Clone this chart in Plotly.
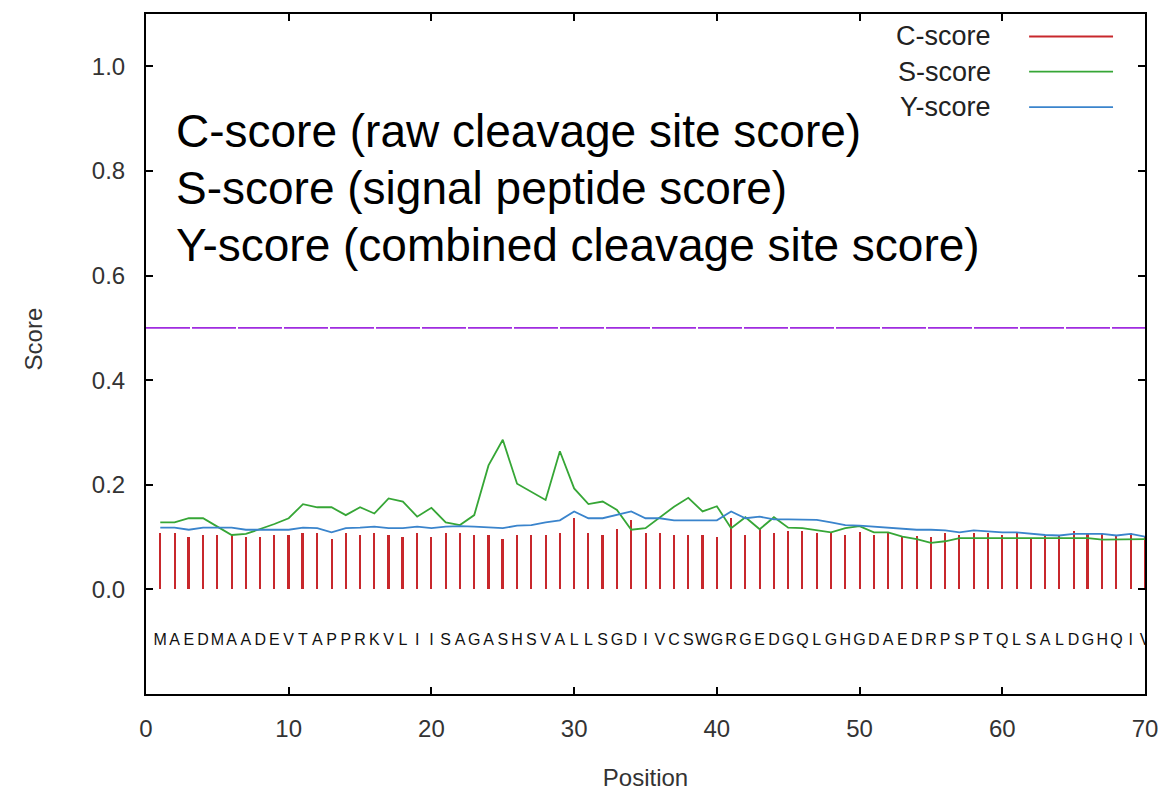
import plotly.graph_objects as go

# SignalP-style score plot: C/S/Y scores per residue position
positions = list(range(1, 71))
sequence = "MAEDMAADEVTAPPRKVLIISAGASHSVALLSGDIVCSWGRGEDGQLGHGDAEDRPSPTQLSALDGHQIV"

c_score = [0.108, 0.108, 0.101, 0.104, 0.104, 0.104, 0.101, 0.101, 0.104, 0.104,
           0.108, 0.108, 0.096, 0.108, 0.104, 0.108, 0.104, 0.101, 0.108, 0.101,
           0.108, 0.108, 0.104, 0.104, 0.096, 0.104, 0.104, 0.104, 0.108, 0.136,
           0.108, 0.104, 0.115, 0.133, 0.108, 0.108, 0.104, 0.104, 0.104, 0.101,
           0.136, 0.104, 0.117, 0.108, 0.111, 0.111, 0.108, 0.108, 0.104, 0.109,
           0.104, 0.109, 0.103, 0.103, 0.100, 0.108, 0.104, 0.108, 0.108, 0.104,
           0.109, 0.099, 0.102, 0.102, 0.111, 0.107, 0.107, 0.103, 0.107, 0.100]

s_score = [0.128, 0.128, 0.136, 0.136, 0.120, 0.104, 0.106, 0.115, 0.125, 0.136,
           0.163, 0.157, 0.157, 0.142, 0.157, 0.145, 0.174, 0.168, 0.139, 0.156,
           0.128, 0.123, 0.142, 0.237, 0.286, 0.202, 0.187, 0.171, 0.264, 0.193,
           0.163, 0.168, 0.152, 0.114, 0.117, 0.138, 0.158, 0.175, 0.149, 0.159,
           0.117, 0.138, 0.115, 0.138, 0.118, 0.117, 0.113, 0.109, 0.117, 0.121,
           0.109, 0.109, 0.101, 0.096, 0.089, 0.092, 0.098, 0.098, 0.098, 0.098,
           0.098, 0.098, 0.099, 0.099, 0.098, 0.098, 0.095, 0.095, 0.095, 0.096]

y_score = [0.118, 0.118, 0.114, 0.118, 0.118, 0.118, 0.114, 0.114, 0.115, 0.114,
           0.118, 0.117, 0.109, 0.117, 0.118, 0.120, 0.117, 0.117, 0.120, 0.117,
           0.120, 0.121, 0.120, 0.118, 0.117, 0.122, 0.123, 0.128, 0.132, 0.149,
           0.136, 0.136, 0.142, 0.149, 0.136, 0.136, 0.132, 0.132, 0.132, 0.132,
           0.149, 0.136, 0.139, 0.134, 0.134, 0.134, 0.133, 0.128, 0.123, 0.122,
           0.120, 0.119, 0.117, 0.114, 0.114, 0.113, 0.109, 0.113, 0.111, 0.109,
           0.109, 0.106, 0.104, 0.103, 0.106, 0.106, 0.106, 0.103, 0.106, 0.101]

threshold_x = [0, 70]
threshold = 0.5
seq_y = -0.098

series_names = ["C-score", "S-score", "Y-score"]
notes = ["C-score (raw cleavage site score)",
         "S-score (signal peptide score)",
         "Y-score (combined cleavage site score)"]

RED, GREEN, BLUE, PURPLE = "#c8282c", "#36a636", "#3a84cc", "#a02ce0"
FONT = "Liberation Sans, Arial, sans-serif"

fig = go.Figure()

fig.add_trace(go.Scatter(x=threshold_x, y=[threshold, threshold], mode="lines",
                         line=dict(color=PURPLE, width=1.8, dash="44px,2px"),
                         showlegend=False))
fig.add_trace(go.Bar(x=positions, y=c_score, width=0.14, marker=dict(color=RED, line=dict(width=0)),
                     showlegend=False))
fig.add_trace(go.Scatter(x=positions, y=s_score, mode="lines",
                         line=dict(color=GREEN, width=1.8), showlegend=False))
fig.add_trace(go.Scatter(x=positions, y=y_score, mode="lines",
                         line=dict(color=BLUE, width=1.8), showlegend=False))
fig.add_trace(go.Scatter(x=positions, y=[seq_y] * len(positions), mode="text",
                         text=list(sequence), textposition="middle center",
                         textfont=dict(family=FONT, size=16, color="#111"),
                         showlegend=False))

# hand-drawn gnuplot style key (text right, sample line left)
key_y = [1.057, 0.990, 0.922]
for name, ky, col in zip(series_names, key_y, [RED, GREEN, BLUE]):
    fig.add_annotation(x=0.848, xref="paper", y=ky, yref="y", text=name, showarrow=False,
                       xanchor="right", yanchor="middle",
                       font=dict(family=FONT, size=27, color="#222"))
    fig.add_shape(type="line", xref="paper", yref="y", x0=0.884, x1=0.968, y0=ky, y1=ky,
                  line=dict(color=col, width=1.8))

for note, ny in zip(notes, [0.876, 0.768, 0.659]):
    fig.add_annotation(x=0.028, xref="paper", y=ny, yref="y", text=note, showarrow=False,
                       xanchor="left", yanchor="middle",
                       font=dict(family=FONT, size=46, color="black"))

# y title sits a bit above the middle in the original
fig.add_annotation(x=-0.113, xref="paper", y=0.478, yref="y", text="Score", showarrow=False,
                   textangle=-90, xanchor="center", yanchor="middle",
                   font=dict(family=FONT, size=24, color="#333"))

axis_common = dict(showline=True, mirror="ticks", linecolor="black", linewidth=2,
                   ticks="inside", ticklen=7, tickwidth=1.5, tickcolor="black",
                   showgrid=False, zeroline=False,
                   tickfont=dict(family=FONT, size=24, color="#333"))

fig.update_xaxes(range=[0, 70], tick0=0, dtick=10, ticklabelstandoff=12,
                 title=dict(text="Position", font=dict(family=FONT, size=24, color="#333"), standoff=28),
                 **axis_common)
fig.update_yaxes(range=[-0.2, 1.1], tickvals=[0, 0.2, 0.4, 0.6, 0.8, 1.0], tickformat=".1f",
                 ticklabelstandoff=14, **axis_common)

# page body adds an 8px offset, so margins are shifted to keep the plot box in place
fig.update_layout(width=1167, height=796, margin=dict(l=138, r=30, t=4, b=110),
                  plot_bgcolor="white", paper_bgcolor="white", bargap=0)

fig.write_html("out.html")
